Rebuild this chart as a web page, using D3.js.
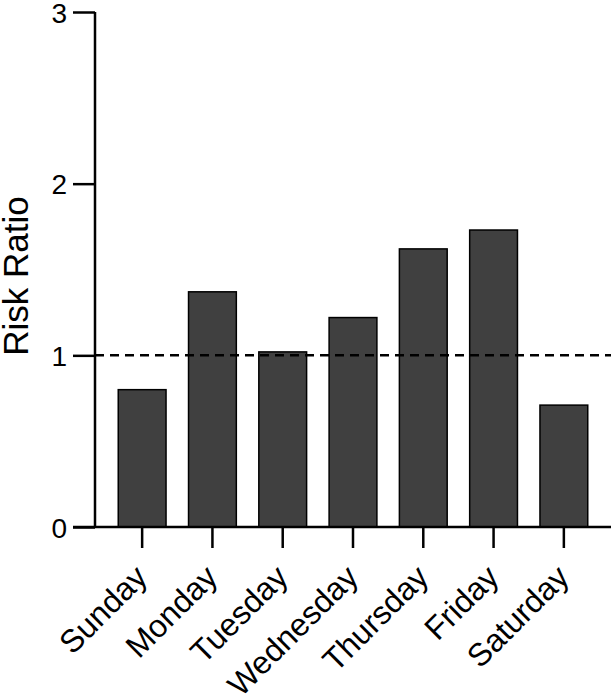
<!DOCTYPE html>
<html lang="en">
<head>
<meta charset="UTF-8">
<title>Risk Ratio by Day</title>
<script src="https://d3js.org/d3.v7.min.js"></script>
<style>
  body { margin: 0; background: #fff; }
  svg { display: block; font-family: "Liberation Sans", Arial, sans-serif; }
</style>
</head>
<body>
<div id="chart"></div>
<script>
const days = ["Sunday", "Monday", "Tuesday", "Wednesday", "Thursday", "Friday", "Saturday"];
const ratios = [0.80, 1.37, 1.02, 1.22, 1.62, 1.73, 0.71];
const yTicks = [0, 1, 2, 3];
const refLine = 1;

const width = 613, height = 696;
const yAxisX = 95, xAxisEnd = 611, xAxisStart = 73;

const svg = d3.select("#chart").append("svg")
    .attr("width", width)
    .attr("height", height);

const x = d3.scaleBand()
    .domain(days)
    .range([107, 599])
    .paddingInner(0.32)
    .paddingOuter(0.16);

const y = d3.scaleLinear()
    .domain([0, 3])
    .range([527, 12]);

// bars
svg.append("g")
  .selectAll("rect")
  .data(days)
  .enter().append("rect")
    .attr("x", d => x(d))
    .attr("y", (d, i) => y(ratios[i]))
    .attr("width", x.bandwidth())
    .attr("height", (d, i) => y(0) - y(ratios[i]))
    .attr("fill", "#404040")
    .attr("stroke", "#000")
    .attr("stroke-width", 1.5);

// dashed reference line
svg.append("line")
    .attr("x1", yAxisX).attr("x2", xAxisEnd)
    .attr("y1", y(refLine)).attr("y2", y(refLine))
    .attr("stroke", "#000")
    .attr("stroke-width", 2.5)
    .attr("stroke-dasharray", "9,6");

// y axis
const yAxis = svg.append("g")
    .attr("transform", `translate(${yAxisX},0)`)
    .call(d3.axisLeft(y).tickValues(yTicks).tickFormat(d3.format("d")).tickSize(22).tickPadding(6));
yAxis.select(".domain").attr("d", `M0,${y(3)}V${y(0)}`);
yAxis.selectAll("line, path").attr("stroke", "#000").attr("stroke-width", 2.5);
yAxis.selectAll("text")
    .attr("font-size", 28)
    .attr("dy", "0.36em")
    .attr("fill", "#000")
    .attr("font-family", "Liberation Sans, Arial, sans-serif");

// x axis
const xAxis = svg.append("g")
    .attr("transform", `translate(0,${y(0)})`)
    .call(d3.axisBottom(x).tickSize(21).tickFormat(""));
xAxis.select(".domain").attr("d", `M${xAxisStart},0H${xAxisEnd}`);
xAxis.selectAll("line, path").attr("stroke", "#000").attr("stroke-width", 2.5);

svg.append("g")
  .selectAll("text")
  .data(days)
  .enter().append("text")
    .attr("transform", d => `translate(${x(d) + x.bandwidth() / 2 + 7},${y(0) + 52}) rotate(-45)`)
    .attr("text-anchor", "end")
    .attr("font-size", 32)
    .attr("fill", "#000")
    .text(d => d);

// y label
svg.append("text")
    .attr("transform", `translate(28,276) rotate(-90)`)
    .attr("text-anchor", "middle")
    .attr("font-size", 35)
    .attr("fill", "#000")
    .text("Risk Ratio");
</script>
</body>
</html>
